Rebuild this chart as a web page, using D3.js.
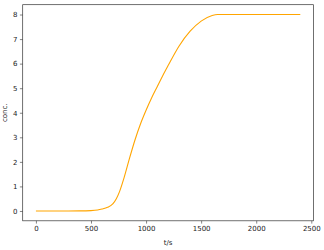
<!DOCTYPE html>
<html><head><meta charset="utf-8">
<script src="https://cdn.jsdelivr.net/npm/d3@7"></script>
<style>body{margin:0;background:#fff}svg{display:block}</style>
</head><body>
<svg id="c" width="324" height="250"></svg>
<script>
const times = [0, 200, 400, 500, 560, 600, 650, 700, 730, 760, 800, 850, 900, 950, 1000, 1050, 1100, 1150, 1200, 1300, 1400, 1500, 1600, 1650, 1700, 2000, 2400];
const conc  = [0, 0, 0.003, 0.015, 0.04, 0.08, 0.15, 0.3, 0.5, 0.8, 1.35, 2.15, 2.9, 3.55, 4.1, 4.6, 5.05, 5.5, 5.92, 6.72, 7.32, 7.73, 7.96, 8.0, 8.0, 8.0, 8.0];
const xTicks = [0, 500, 1000, 1500, 2000, 2500];
const yTicks = [0, 1, 2, 3, 4, 5, 6, 7, 8];

const svg = d3.select("#c");
const L = 22.7, R = 313.5, T = 4.7, B = 220.8;
const x = d3.scaleLinear().domain([-120, 2520]).range([L, R]);
const y = d3.scaleLinear().domain([-0.4, 8.4]).range([B, T]);
const font = "DejaVu Sans, sans-serif";
const fs = 7;

const line = d3.line().x((d,i)=>x(times[i])).y(d=>y(d)).curve(d3.curveMonotoneX);
svg.append("path").datum(conc).attr("d", line).attr("fill","none")
  .attr("stroke","#FFA500").attr("stroke-width",1.1);

const xa = svg.append("g").attr("transform",`translate(0,${B})`)
  .call(d3.axisBottom(x).tickValues(xTicks).tickFormat(d3.format("d")).tickSize(2.8).tickPadding(2.5).tickSizeOuter(0));
const ya = svg.append("g").attr("transform",`translate(${L},0)`)
  .call(d3.axisLeft(y).tickValues(yTicks).tickFormat(d3.format("d")).tickSize(2.8).tickPadding(2.5).tickSizeOuter(0));
[xa, ya].forEach(a=>{
  a.select(".domain").remove();
  a.selectAll("line").attr("stroke","#333").attr("stroke-width",0.6);
  a.selectAll("text").attr("font-family",font).attr("font-size",fs).attr("fill","#222");
});
svg.append("rect").attr("x",L).attr("y",T).attr("width",R-L).attr("height",B-T)
  .attr("fill","none").attr("stroke","#333").attr("stroke-width",0.7);

svg.append("text").attr("x",(L+R)/2).attr("y",244.5).attr("text-anchor","middle")
  .attr("font-family",font).attr("font-size",fs).attr("fill","#222").text("t/s");
svg.append("text").attr("transform",`translate(7.3,${(T+B)/2}) rotate(-90)`).attr("text-anchor","middle")
  .attr("font-family",font).attr("font-size",fs).attr("fill","#222").text("conc.");
</script>
</body></html>
